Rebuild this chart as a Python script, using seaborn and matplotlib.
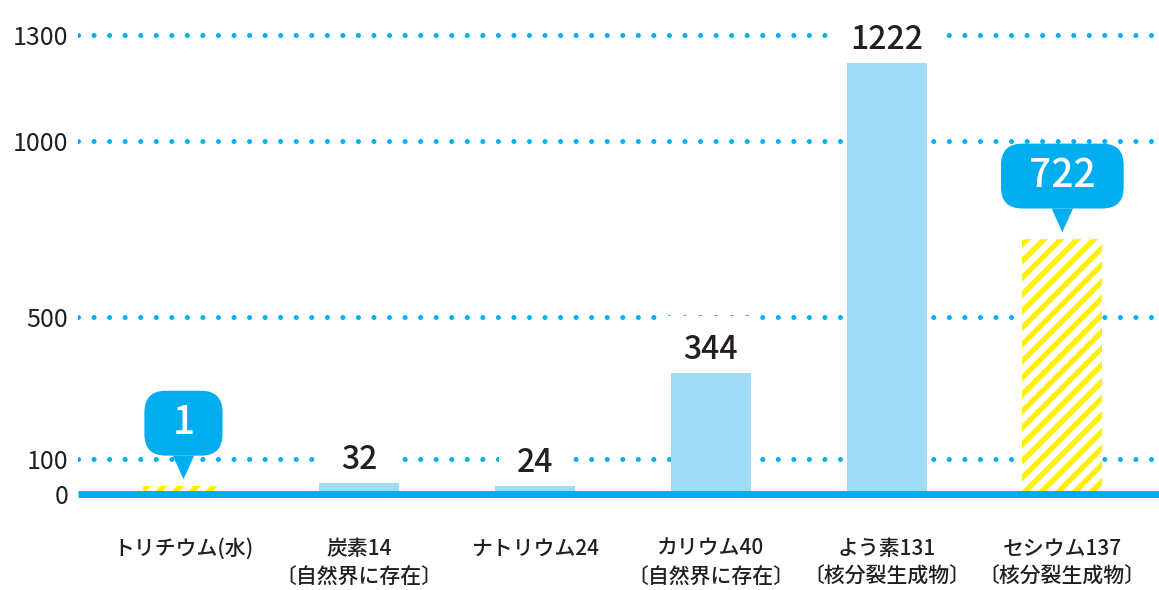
import matplotlib
matplotlib.use("Agg")
import matplotlib.pyplot as plt
from matplotlib.patches import BoxStyle
import seaborn as sns
import pandas as pd

# ---- data ----
categories = ["トリチウム(水)", "炭素14", "ナトリウム24", "カリウム40", "よう素131", "セシウム137"]
subtitles = ["", "〔自然界に存在〕", "", "〔自然界に存在〕", "〔核分裂生成物〕", "〔核分裂生成物〕"]
values = [1, 32, 24, 344, 1222, 722]
highlight = [True, False, False, False, False, True]
yticks = [0, 100, 500, 1000, 1300]
ytick_labels = ["0", "100", "500", "1000", "1300"]

# ---- style ----
BLUE = "#00AEEF"
LIGHT = "#A0DCF6"
YELLOW = "#FFF100"
DARK = "#231F20"
MIN_VISIBLE = 22  # tiny bars drawn with a minimum visible height

sns.set_theme(style="white")
plt.rcParams['font.family'] = ['Noto Sans CJK JP', 'DejaVu Sans']
plt.rcParams['hatch.linewidth'] = 3.8

_round = BoxStyle.Round(pad=0, rounding_size=0.55)


def bubble(x0, y0, width, height, mutation_size):
    padx = 0.72 * mutation_size
    pady = 0.32 * mutation_size
    return _round(x0 - padx, y0 - pady, width + 2 * padx, height + 2 * pady, mutation_size)


W, H = 1159, 590
fig = plt.figure(figsize=(W / 100, H / 100), dpi=100)
ax = fig.add_axes([78 / W, 1 - 510 / H, 1 - 78 / W, 500 / H])

disp = [max(v, MIN_VISIBLE) for v in values]
df = pd.DataFrame({"cat": categories, "val": disp})
colors = [LIGHT] * len(categories)
sns.barplot(data=df, x="cat", y="val", hue="cat", palette=colors, width=0.455,
            legend=False, ax=ax, saturation=1, zorder=2)

for p, hl in zip(ax.patches, highlight):
    p.set_zorder(2)
    p.set_linewidth(0)
    if hl:
        p.set_facecolor("white")
        p.set_edgecolor(YELLOW)
        p.set_hatch("//")

# dotted gridlines
for t in yticks:
    if t > 0:
        ax.axhline(t, color=BLUE, lw=3.6, linestyle=(0, (0.01, 3.1)),
                   dash_capstyle="round", zorder=0.5)
# baseline
ax.axhline(0, color=BLUE, lw=5, zorder=3, solid_capstyle="butt")

# labels
for i, (v, d, hl) in enumerate(zip(values, disp, highlight)):
    if hl:
        ax.annotate(str(v), xy=(i, d), xytext=(0, 31), textcoords="offset points",
                    ha="center", va="bottom", fontsize=28, color="white",
                    fontweight="medium",
                    bbox=dict(boxstyle=bubble, fc=BLUE, ec="none"),
                    arrowprops=dict(arrowstyle="wedge,tail_width=0.55", fc=BLUE, ec="none",
                                    shrinkA=0, shrinkB=5),
                    zorder=4)
    else:
        ax.annotate(str(v), xy=(i, d), xytext=(0, 5), textcoords="offset points",
                    ha="center", va="bottom", fontsize=23, color=DARK,
                    fontweight="medium",
                    bbox=dict(boxstyle="square,pad=0.55", fc="white", ec="none"),
                    zorder=1.5)

ax.set_xlim(-0.6, 5.55)
ax.set_ylim(-45.3, 1371)
ax.set_yticks(yticks)
ax.set_yticklabels(ytick_labels, fontsize=18, color=DARK)
ax.set_xticks(range(len(categories)))
ax.set_xticklabels([c + ("\n" + s if s else "") for c, s in zip(categories, subtitles)],
                   fontsize=15, color=DARK, linespacing=1.35, fontweight="medium")
ax.tick_params(axis="x", length=0, pad=20)
ax.tick_params(axis="y", length=0, pad=7)
ax.set_xlabel("")
ax.set_ylabel("")
for s in ax.spines.values():
    s.set_visible(False)
ax.grid(False)

fig.savefig("out.png", dpi=100)
